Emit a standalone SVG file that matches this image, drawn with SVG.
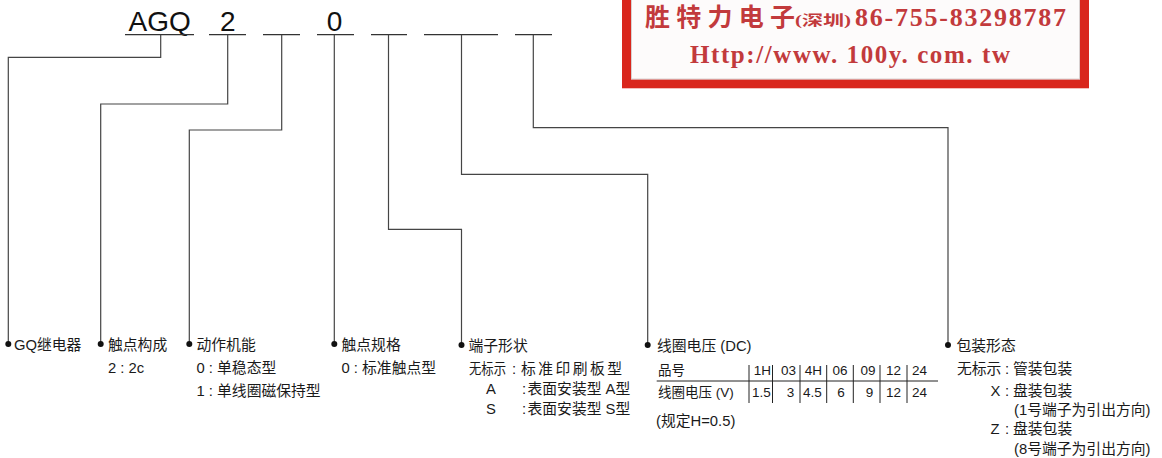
<svg xmlns="http://www.w3.org/2000/svg" width="1162" height="458" viewBox="0 0 1162 458">
<style>
.t{font-family:"Liberation Sans","Noto Sans CJK SC",sans-serif;font-size:14.8px;fill:#1a1a1a}
.tb{font-size:13.5px}
.m{text-anchor:middle}
.code{font-family:"Liberation Sans",Arial,sans-serif;font-size:28px;fill:#111}
.ul{stroke:#333;stroke-width:1.2;fill:none}
.c{stroke:#454545;stroke-width:1.2;fill:none}
.g{stroke:#222;stroke-width:1;fill:none}
.dot{fill:#111}
.logo{font-family:"Liberation Serif","Noto Sans CJK SC",serif;font-weight:bold;fill:#c23a3c}
</style>
<rect width="1162" height="458" fill="#fff"/>

<g id="logo">
<rect x="626.5" y="-10" width="458" height="93.8" fill="#fdfbfb" stroke="#d9261c" stroke-width="9"/>
<rect x="631.5" y="-5" width="448" height="84" fill="none" stroke="#d8d0d0" stroke-width="1"/>
<text class="logo" x="645" y="26" font-size="25" font-weight="500" textLength="150" lengthAdjust="spacing">胜特力电子</text>
<text class="logo" x="795" y="25" font-size="14" font-weight="500" textLength="56" lengthAdjust="spacingAndGlyphs">(深圳)</text>
<text class="logo" x="855" y="26" font-size="26" textLength="211" lengthAdjust="spacing">86-755-83298787</text>
<text class="logo" x="690" y="63.3" font-size="25" textLength="320" lengthAdjust="spacing">Http://www. 100y. com. tw</text>
</g>

<g id="code">
<text class="code" x="128.5" y="30.7">AGQ</text>
<text class="code m" x="227.7" y="30.7">2</text>
<text class="code m" x="334.5" y="30.7">0</text>
<path class="ul" d="M125 34.7H194M209 34.7H246M263 34.7H300M317 34.7H354M371 34.7H407M424 34.7H498M515 34.7H552"/>
</g>

<g id="connectors">
<path class="c" d="M160.7 34.7V57.3H8.3V344"/>
<path class="c" d="M227.7 34.7V104H100.7V344"/>
<path class="c" d="M281.7 34.7V130H189.3V344"/>
<path class="c" d="M334.3 34.7V344"/>
<path class="c" d="M388.5 34.7V229.3H461.5V345"/>
<path class="c" d="M461.5 34.7V174.3H647.7V345"/>
<path class="c" d="M533.3 34.7V127.7H948V345"/>
</g>

<g id="node-relay">
<circle class="dot" cx="8.3" cy="344" r="3"/>
<text class="t" x="14" y="350">GQ继电器</text>
</g>

<g id="node-contact">
<circle class="dot" cx="100.7" cy="344" r="3"/>
<text class="t" x="108" y="350">触点构成</text>
<text class="t" x="108" y="373">2 : 2c</text>
</g>

<g id="node-function">
<circle class="dot" cx="189.3" cy="344" r="3"/>
<text class="t" x="196.5" y="350">动作机能</text>
<text class="t" x="196.5" y="373">0 : 单稳态型</text>
<text class="t" x="196.5" y="395.5">1 : 单线圈磁保持型</text>
</g>

<g id="node-spec">
<circle class="dot" cx="334.3" cy="344" r="3"/>
<text class="t" x="341.5" y="350">触点规格</text>
<text class="t" x="341.5" y="373">0 : 标准触点型</text>
</g>

<g id="node-terminal">
<circle class="dot" cx="461.5" cy="345" r="3"/>
<text class="t" x="468.5" y="351">端子形状</text>
<text class="t" x="469" y="374" textLength="37" lengthAdjust="spacingAndGlyphs">无标示</text>
<text class="t" x="512" y="374">:</text>
<text class="t" x="521" y="374" textLength="101" lengthAdjust="spacing">标准印刷板型</text>
<text class="t" x="486" y="394">A</text>
<text class="t" x="522" y="394">:</text>
<text class="t" x="527.5" y="394">表面安装型 A型</text>
<text class="t" x="486" y="413.5">S</text>
<text class="t" x="522" y="413.5">:</text>
<text class="t" x="527.5" y="413.5">表面安装型 S型</text>
</g>

<g id="node-coil">
<circle class="dot" cx="647.7" cy="345" r="3"/>
<text class="t" x="657" y="350.5">线圈电压 (DC)</text>
<text class="t tb" x="658" y="375">品号</text>
<text class="t tb" x="658" y="397">线圈电压 (V)</text>
<path class="g" d="M749 365V403M772.5 365V403M800 365V403M826.7 365V403M853.3 365V403M880 365V403M907 365V403M656.7 381H938"/>
<text class="t tb m" x="762.5" y="375">1H</text>
<text class="t tb m" x="788.5" y="375">03</text>
<text class="t tb m" x="813.5" y="375">4H</text>
<text class="t tb m" x="840" y="375">06</text>
<text class="t tb m" x="868" y="375">09</text>
<text class="t tb m" x="893.5" y="375">12</text>
<text class="t tb m" x="919.5" y="375">24</text>
<text class="t tb m" x="761.5" y="397">1.5</text>
<text class="t tb m" x="790.5" y="397">3</text>
<text class="t tb m" x="812.5" y="397">4.5</text>
<text class="t tb m" x="841" y="397">6</text>
<text class="t tb m" x="869.5" y="397">9</text>
<text class="t tb m" x="893.5" y="397">12</text>
<text class="t tb m" x="919.5" y="397">24</text>
<text class="t" x="656" y="425.5">(规定H=0.5)</text>
</g>

<g id="node-package">
<circle class="dot" cx="948" cy="345" r="3"/>
<text class="t" x="956.5" y="350.5">包装形态</text>
<text class="t" x="957" y="374">无标示</text>
<text class="t" x="1005" y="374">:</text>
<text class="t" x="1013" y="374">管装包装</text>
<text class="t" x="990.5" y="395.5">X</text>
<text class="t" x="1005" y="395.5">:</text>
<text class="t" x="1013" y="395.5">盘装包装</text>
<text class="t" x="1014" y="415">(1号端子为引出方向)</text>
<text class="t" x="990.5" y="434">Z</text>
<text class="t" x="1005" y="434">:</text>
<text class="t" x="1013" y="434">盘装包装</text>
<text class="t" x="1014" y="454">(8号端子为引出方向)</text>
</g>
</svg>
